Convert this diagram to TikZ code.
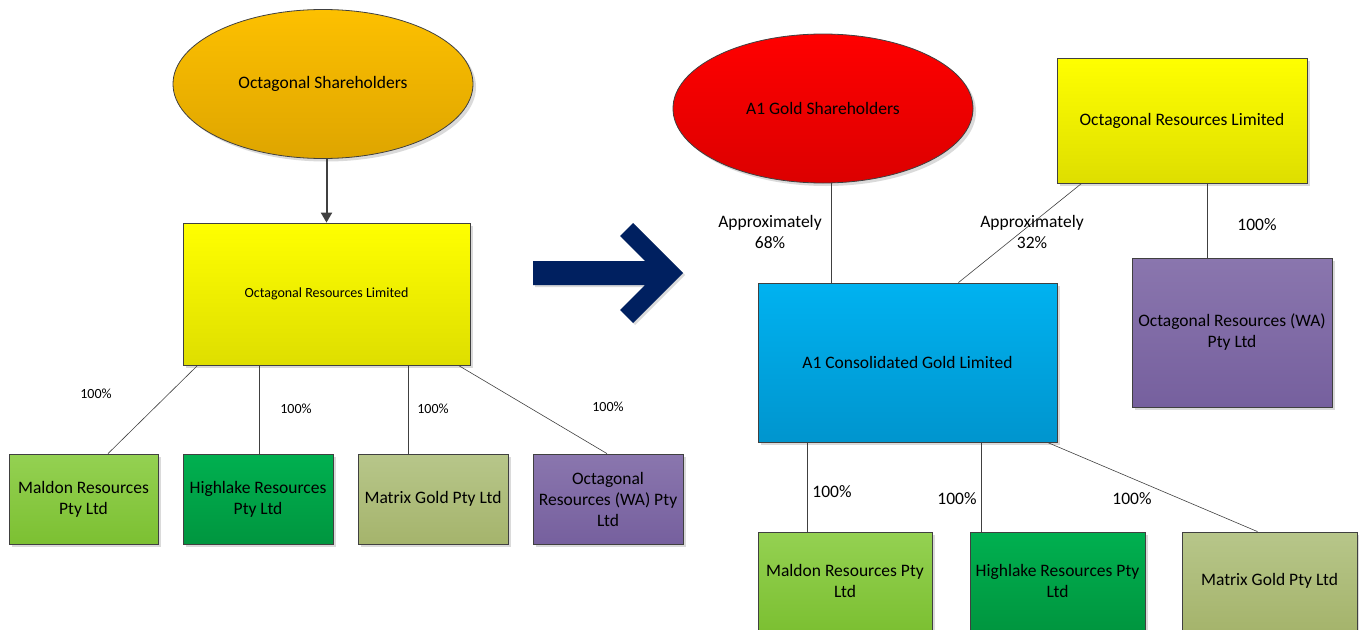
\documentclass[tikz,border=0pt]{standalone}
\usepackage{fontspec}
\setmainfont{Carlito}
\usetikzlibrary{shapes.geometric,shadows,calc,arrows.meta}
\definecolor{edge}{HTML}{404040}
\definecolor{shadowc}{HTML}{DADADA}
\definecolor{orgT}{HTML}{FDC000}
\definecolor{orgB}{HTML}{DEA500}
\definecolor{yelT}{HTML}{FFFF00}
\definecolor{yelB}{HTML}{DEDE00}
\definecolor{redT}{HTML}{FF0000}
\definecolor{redB}{HTML}{DC0000}
\definecolor{bluT}{HTML}{00B2F0}
\definecolor{bluB}{HTML}{0095CE}
\definecolor{purT}{HTML}{8A76AE}
\definecolor{purB}{HTML}{76609E}
\definecolor{lgrT}{HTML}{94D152}
\definecolor{lgrB}{HTML}{7CC032}
\definecolor{grnT}{HTML}{00B050}
\definecolor{grnB}{HTML}{00963F}
\definecolor{olvT}{HTML}{B7C68A}
\definecolor{olvB}{HTML}{A5B46C}
\definecolor{navy}{HTML}{002060}
\begin{document}
\begin{tikzpicture}[x=1pt,y=-1pt,
  shd/.style={drop shadow={shadow xshift=3pt,shadow yshift=-3pt,fill=shadowc,opacity=1}},
  box/.style={rectangle,draw=edge,line width=0.8pt,inner sep=0pt,align=center,
    font=\fontsize{17.5}{21}\selectfont,shd},
  oval/.style={ellipse,draw=edge,line width=0.8pt,inner sep=0pt,align=center,
    font=\fontsize{17.5}{21}\selectfont,shd},
  link/.style={draw=edge,line width=0.6pt},
  lbl/.style={align=center,inner sep=0pt,font=\fontsize{17.5}{21}\selectfont},
  slbl/.style={align=center,inner sep=0pt,font=\fontsize{14}{17}\selectfont}]
\useasboundingbox (0,0) rectangle (1359,629);
\clip (0,0) rectangle (1359,629);
% ---------- left: before ----------
\node[oval,minimum width=300,minimum height=149,top color=orgT,bottom color=orgB]
  (lsh) at (323,84) {Octagonal Shareholders};
\node[box,minimum width=287,minimum height=142,top color=yelT,bottom color=yelB,
  font=\fontsize{14}{17}\selectfont] (lyb) at (326.5,294) {Octagonal Resources Limited};
\node[box,minimum width=149,minimum height=90,top color=lgrT,bottom color=lgrB]
  (lmal) at (83.5,499) {Maldon Resources\\Pty Ltd};
\node[box,minimum width=150,minimum height=90,top color=grnT,bottom color=grnB]
  (lhigh) at (258,499) {Highlake Resources\\Pty Ltd};
\node[box,minimum width=150,minimum height=90,top color=olvT,bottom color=olvB]
  (lmat) at (433,499) {Matrix Gold Pty Ltd};
\node[box,minimum width=150,minimum height=90,top color=purT,bottom color=purB]
  (lwa) at (608,499) {Octagonal\\Resources (WA) Pty\\Ltd};
\draw[draw=edge,line width=2pt,-{Triangle[length=10pt,width=11pt]}]
  (lyb.north |- lsh.south) -- (lyb.north);
\draw[link] ($(lyb.south west)+(15,0)$) -- ($(lmal.north)+(24.5,0)$);
\draw[link] ($(lhigh.north)+(1,0)$) -- ($(lhigh.north |- lyb.south)+(1,0)$);
\draw[link] ($(lmat.north)+(-25,0)$) -- ($(lmat.north |- lyb.south)+(-25,0)$);
\draw[link] ($(lyb.south east)+(-12,0)$) -- ($(lwa.north)+(-1,0)$);
\node[slbl] (l1) at (96,394) {100\%};
\node[slbl] (l2) at (296,409) {100\%};
\node[slbl] (l3) at (433,409) {100\%};
\node[slbl] (l4) at (608,407) {100\%};
% ---------- big arrow ----------
\fill[shadowc] ($(533,261)+(2,2)$) -- ++(112,0) -- ++(-25,-25) -- ++(13,-13) -- ++(50,50)
  -- ++(-50,50) -- ++(-13,-13) -- ++(25,-25) -- ++(-112,0) -- cycle;
\fill[navy] (533,261) -- (645,261) -- (620,236) -- (633,223) -- (683,273)
  -- (633,323) -- (620,310) -- (645,285) -- (533,285) -- cycle;
% ---------- right: after ----------
\node[oval,minimum width=300,minimum height=149,top color=redT,bottom color=redB]
  (rsh) at (823,108.5) {A1 Gold Shareholders};
\node[box,minimum width=250,minimum height=125,top color=yelT,bottom color=yelB]
  (ryb) at (1182,120.5) {Octagonal Resources Limited};
\node[box,minimum width=299,minimum height=159,top color=bluT,bottom color=bluB]
  (ra1) at (907.5,362.5) {A1 Consolidated Gold Limited};
\node[box,minimum width=200,minimum height=149,top color=purT,bottom color=purB]
  (rwa) at (1232,332.5) {Octagonal Resources (WA)\\Pty Ltd};
\node[box,minimum width=174,minimum height=98,top color=lgrT,bottom color=lgrB]
  (rmal) at (845,581) {Maldon Resources Pty\\Ltd};
\node[box,minimum width=175,minimum height=98,top color=grnT,bottom color=grnB]
  (rhigh) at (1057.5,581) {Highlake Resources Pty\\Ltd};
\node[box,minimum width=175,minimum height=98,top color=olvT,bottom color=olvB]
  (rmat) at (1269.5,581) {Matrix Gold Pty Ltd};
\draw[link] ($(ra1.north west)+(74,0)$) -- ($(ra1.north west |- rsh.south)+(74,0)$);
\draw[link] ($(ryb.south west)+(25,0)$) -- ($(ra1.north east)+(-99,0)$);
\draw[link] ($(rwa.north)+(-25,0)$) -- ($(rwa.north |- ryb.south)+(-25,0)$);
\draw[link] ($(rmal.north)+(-38,0)$) -- ($(rmal.north |- ra1.south)+(-38,0)$);
\draw[link] ($(rhigh.north west)+(12,0)$) -- ($(rhigh.north west |- ra1.south)+(12,0)$);
\draw[link] ($(ra1.south east)+(-10,0)$) -- ($(rmat.north)+(-12,0)$);
\node[lbl] (r1) at (770,232) {Approximately\\68\%};
\node[lbl] (r2) at (1032,232) {Approximately\\32\%};
\node[lbl] (r3) at (1257,225) {100\%};
\node[lbl] (r4) at (832,492) {100\%};
\node[lbl] (r5) at (957,499) {100\%};
\node[lbl] (r6) at (1132,499) {100\%};
\end{tikzpicture}
\end{document}
